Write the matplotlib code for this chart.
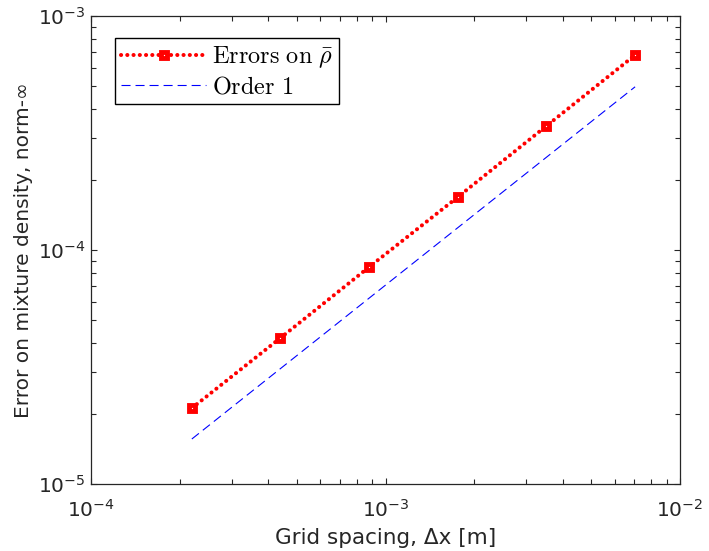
import matplotlib
matplotlib.use("Agg")
import matplotlib.pyplot as plt
from matplotlib.font_manager import FontProperties
from matplotlib.ticker import LogLocator, NullFormatter

# Data
dx = [2.2e-4, 4.4e-4, 8.8e-4, 1.76e-3, 3.52e-3, 7.04e-3]
err_rho = [2.11e-5, 4.21e-5, 8.46e-5, 1.684e-4, 3.39e-4, 6.81e-4]
order1 = [1.557e-5, 3.114e-5, 6.228e-5, 1.2456e-4, 2.4912e-4, 4.9824e-4]
labels = [r'$\mathrm{Errors\ on\ }\bar{\rho}$', r'$\mathrm{Order\ 1}$']
xlabel = 'Grid spacing, Δx [m]'
ylabel = 'Error on mixture density, norm-∞'

plt.rcParams['font.family'] = ['DejaVu Sans']
plt.rcParams['mathtext.fontset'] = 'dejavusans'
plt.rcParams['lines.scale_dashes'] = False
gray = (0.15, 0.15, 0.15)

fig = plt.figure(figsize=(7.09, 5.51), dpi=100)
ax = fig.add_axes([91/709, 67/551, 589/709, 468/551])

ax.plot(dx, err_rho, color='red', linestyle=(0, (0.1, 4.4)), linewidth=2.9,
        dash_capstyle='round', marker='s', markersize=4.6, markeredgewidth=3.5,
        markerfacecolor='white', markeredgecolor='red', label=labels[0])
ax.plot(dx, order1, color='blue', linestyle=(0, (6.5, 3.6)), linewidth=0.8,
        label=labels[1])

ax.set_xscale('log')
ax.set_yscale('log')
ax.set_xlim(1e-4, 1e-2)
ax.set_ylim(1e-5, 1e-3)

ax.xaxis.set_major_locator(LogLocator(base=10, numticks=10))
ax.yaxis.set_major_locator(LogLocator(base=10, numticks=10))
ax.xaxis.set_minor_locator(LogLocator(base=10, subs=range(2, 10), numticks=20))
ax.yaxis.set_minor_locator(LogLocator(base=10, subs=range(2, 10), numticks=20))
ax.xaxis.set_minor_formatter(NullFormatter())
ax.yaxis.set_minor_formatter(NullFormatter())

ax.tick_params(which='both', direction='in', top=True, right=True, colors=gray,
               labelcolor=gray, width=0.8)
ax.tick_params(which='major', length=4.5, labelsize=14.5)
ax.tick_params(axis='x', which='major', pad=11)
ax.tick_params(axis='y', which='major', pad=4)
ax.tick_params(which='minor', length=3.5)
for s in ax.spines.values():
    s.set_color(gray)
    s.set_linewidth(0.9)

ax.set_xlabel(xlabel, fontsize=15.5, color=gray, labelpad=5)
ax.set_ylabel(ylabel, fontsize=14.5, color=gray, labelpad=3)

prop = FontProperties(size=17.5, math_fontfamily='cm')
leg = ax.legend(loc='upper left', bbox_to_anchor=(0.041, 0.953), borderaxespad=0,
                prop=prop, fancybox=False, framealpha=1, edgecolor='black',
                handlelength=3.5, handletextpad=0.22, borderpad=0.25,
                labelspacing=0.18)
leg.get_frame().set_linewidth(1.0)

fig.savefig('out.png', dpi=100)
